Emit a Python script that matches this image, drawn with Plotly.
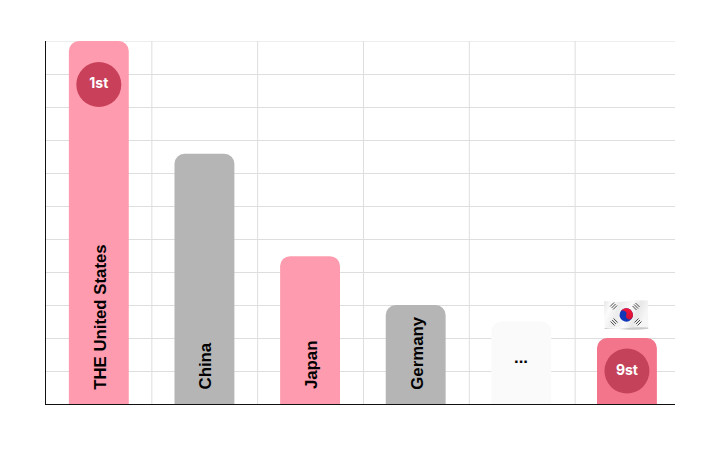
import base64
import plotly.graph_objects as go

categories = ["THE United States", "China", "Japan", "Germany", "...", "Korea"]
values = [110, 75.8, 44.8, 30, 25, 20]
bar_colors = ["#FF9BAE", "#B5B5B5", "#FF9BAE", "#B5B5B5", "#FAFAFA", "#F3758C"]
rotated_labels = ["THE United States", "China", "Japan", "Germany"]
ellipsis_category = "..."
ellipsis_value = 12.5
badge_categories = ["THE United States", "Korea"]
badge_values = [96.8, 10]
badge_labels = ["1st", "9st"]
y_top = 110

flag_svg = """<svg xmlns='http://www.w3.org/2000/svg' viewBox='0 0 45 30' width='270' height='180'>
<defs>
<linearGradient id='w' x1='0' y1='0' x2='1' y2='0.25'>
<stop offset='0' stop-color='#e6e6e6'/><stop offset='.18' stop-color='#fbfbfb'/>
<stop offset='.38' stop-color='#ececec'/><stop offset='.62' stop-color='#fafafa'/>
<stop offset='.8' stop-color='#e8e8e8'/><stop offset='1' stop-color='#f6f6f6'/></linearGradient>
<linearGradient id='r' x1='0' y1='0' x2='0' y2='1'>
<stop offset='0' stop-color='#F5163A'/><stop offset='1' stop-color='#D01035'/></linearGradient>
</defs>
<path d='M0.500 1 Q12 2.500 22 1.200 T44.500 0.500 L45 27.500 Q33 29.500 22 28.300 T1 28 Z' fill='url(#w)'/>
<path d='M1 28 Q11 29.800 22 28.300 T45 27.500 L45 28.700 Q33 30.500 22 29.400 T1 29 Z' fill='#c9c9c9'/>
<g transform='rotate(18 22.700 15)'>
<circle cx='22.700' cy='15' r='6.700' fill='#1238B8'/>
<path d='M16 15 a6.700 6.700 0 0 1 13.400 0 a3.350 3.350 0 0 1 -6.700 0 a3.350 3.350 0 0 0 -6.700 0z' fill='url(#r)'/>
</g>
<g stroke='#4a4a4a' stroke-width='1'>
<path d='M8 8.500l4-4M9.500 10l4-4M11 11.500l4-4' transform='translate(-1.500 -2)'/>
<path d='M32 4l4 4M30.500 5.500l4 4M29 7l4 4' transform='translate(0 -1)'/>
<path d='M8 21l4 4M9.500 19.500l4 4M11 18l4 4' transform='translate(-1 .5)'/>
<path d='M37 21l-4 4M35.500 19.500l-4 4M34 18l-4 4' transform='translate(1 .5)'/>
</g></svg>"""
flag_uri = "data:image/svg+xml;base64," + base64.b64encode(flag_svg.encode()).decode()

fig = go.Figure()
fig.add_bar(
    x=categories, y=values, width=0.567,
    marker=dict(color=bar_colors, line_width=0, cornerradius=10),
    hoverinfo="skip",
)
fig.add_scatter(
    x=badge_categories, y=badge_values, mode="markers+text", text=badge_labels,
    textposition="middle center",
    marker=dict(size=45, color=["#C84059", "#C4435B"], line_width=0),
    textfont=dict(family="Inter", size=14, color="#FFFFFF", weight=700),
    hoverinfo="skip",
)
label_font = dict(family="Liberation Sans", size=16.8, color="#000000", weight=700)
for name in rotated_labels:
    fig.add_annotation(x=name, y=0, text=name, textangle=-90, showarrow=False,
                       xanchor="center", yanchor="bottom", yshift=12.5, xshift=1, font=label_font)
fig.add_annotation(x=ellipsis_category, y=ellipsis_value, text="...", showarrow=False,
                   xanchor="center", yanchor="middle", yshift=5, font=label_font)

fig.update_layout(
    width=704, height=434, autosize=False,
    margin=dict(l=37.5, r=36.5, t=33, b=38),
    paper_bgcolor="#FFFFFF", plot_bgcolor="#FFFFFF",
    showlegend=False,
    images=[dict(source=flag_uri, xref="paper", yref="paper", x=0.8865, y=0.2865,
                 sizex=0.0714, sizey=0.0826, xanchor="left", yanchor="top",
                 sizing="stretch", layer="above")],
)
fig.update_xaxes(
    categoryorder="array", categoryarray=categories, range=[-0.5, 5.455], showticklabels=False,
    showgrid=False, ticks="", showline=True, linecolor="#111111", linewidth=1.3, zeroline=False,
)
fig.update_yaxes(
    range=[0, y_top], dtick=10, showticklabels=False, ticks="", showgrid=True,
    gridcolor="#DEDEDE", gridwidth=1, showline=True, linecolor="#111111", linewidth=1.3, zeroline=False,
)
fig.add_hline(y=y_top, line=dict(color="#DEDEDE", width=1), layer="below")
for pos in range(1, 6):
    fig.add_vline(x=-0.5 + pos * 106 / 105.8, line=dict(color="#DEDEDE", width=1), layer="below")
fig.write_html("out.html")
